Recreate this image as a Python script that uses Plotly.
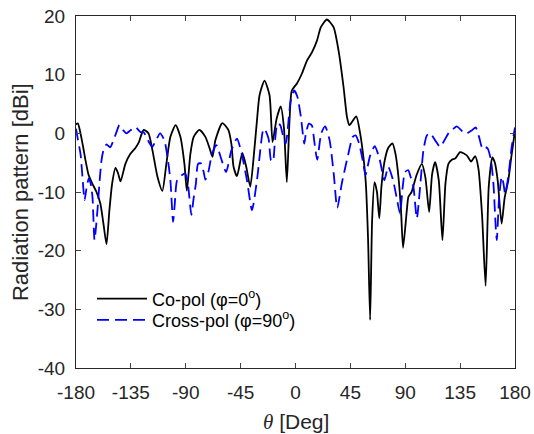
import plotly.graph_objects as go

# Co-pol (phi=0)
co_theta = [-180, -178.5, -176.3, -174, -172.2, -169.8, -166.5, -163.2, -160, -157.5,
            -155, -152.6, -150.4, -147.6, -145.5, -143.5, -139.5, -135.4, -131.3, -128.6,
            -126.5, -124.5, -120.6, -117.3, -113.2, -109.2, -105.9, -102.6, -98.3, -94.4,
            -91.1, -89.1, -86.2, -83.5, -78.8, -73.9, -70.5, -68.1, -65.7, -60,
            -55.1, -52.6, -50.8, -48, -43.6, -40.4, -37.1, -33.8, -31.6, -29.5,
            -25.4, -21.3, -18.8, -15.5, -12.1, -9.5, -7.1, -4.9, -3, 1.2,
            5.3, 9.4, 13.5, 17.6, 20.8, 25.7, 31.2, 35.3, 39.4, 42.2,
            44.2, 49.8, 53, 56.3, 57.7, 59.5, 61.2, 62.8, 64.8, 66.8,
            68.7, 70.5, 72.9, 76, 79.5, 82, 84.4, 86.5, 88.2, 91.3,
            92.6, 95.2, 99.3, 103.6, 106.5, 109.6, 112, 114.5, 117.5, 120.5,
            123, 125.4, 128.2, 130.9, 135, 140.4, 144, 147.3, 150, 153,
            155.9, 158.5, 161.4, 163.5, 165.8, 169, 171.5, 174.5, 177, 180]
co_gain = [1.5, 1.7, 0.0, -2.5, -4.6, -7.0, -8.6, -10, -12, -15.4,
           -18.9, -13.1, -8.6, -5.9, -6.8, -8.2, -5.2, -3.5, -2.5, -1.6,
           -0.3, 0.6, 0.0, -2.9, -7.4, -9.8, -5.2, -0.6, 1.4, -0.6,
           -5.2, -9.8, -3.5, -0.6, 0.6, -0.6, -2.5, -4.0, -1.2, 1.75,
           0.6, -1.75, -5.7, -7.3, -3.35, -5.7, -9.1, -2.9, 2.2, 6.5,
           9.0, 6.5, -1.5, 2.5, 4.6, 1.0, -8.3, 2.2, 7.3, 8.5,
           10.2, 12.4, 13.8, 15.8, 18.1, 19.4, 18.1, 14.1, 7.9, 2.8,
           1.4, 2.9, 0, -5.2, -8.6, -18, -31.8, -15, -8.3, -10,
           -14.5, -9, -4.9, -2.5, -1.7, -3.5, -7.4, -13, -19.5, -13.1,
           -10.8, -10, -7.1, -5.2, -7.5, -13.4, -7, -4.9, -8, -18.2,
           -8.5, -5.2, -4.5, -4.3, -3.2, -3.75, -4.8, -3.9, -6, -14,
           -26.0, -9, -4.1, -5, -8, -15.4, -11, -8, -4, 0.5]

# Cross-pol (phi=90)
cx_theta = [-180, -178.5, -176.3, -174.7, -173, -171.5, -169.5, -168, -166.5, -164.8,
            -162.4, -160.8, -159.1, -157.5, -155, -152, -149.3, -146.8, -144.4, -141.1,
            -138.6, -135.4, -131.5, -127, -124.5, -121, -117.5, -114.5, -111, -107.5,
            -105, -102.6, -100.4, -99, -97.1, -93, -90.3, -88, -85.4, -83.5,
            -81.7, -79.9, -77.5, -75.3, -73.9, -71.5, -68.4, -64.9, -61, -56.9,
            -52.6, -48, -43.9, -39.8, -35.7, -31.6, -28.9, -27, -25.6, -22.1,
            -20.1, -18.5, -17, -14.8, -12.5, -10.7, -8, -3.9, -1.1, 1.6,
            4.4, 7.2, 8.5, 11, 13.5, 15.3, 17.8, 21.1, 24.3, 28,
            31.4, 34.2, 38.2, 43, 47, 49.3, 52.2, 55.5, 57.4, 61.2,
            65, 69, 72.9, 76, 80, 83, 85.7, 88, 89.8, 92.5,
            94.5, 96.7, 99.5, 102.2, 104.9, 107.7, 110.4, 114.5, 118.6, 122.1,
            125.4, 128.2, 132.2, 137.6, 140.4, 144.5, 147.8, 150.5, 153.3, 155.4,
            157.6, 160.3, 162.3, 164.2, 165.1, 167, 169.1, 170.5, 171.9, 174.5,
            177.3, 180]
cx_gain = [0.8, -1, -3.5, -7.4, -11.4, -9.5, -7.7, -8.5, -10.8, -18.2,
           -13.1, -8.6, -4.6, -2.9, -1.9, -2.4, -1.2, 0.2, 1.4, 0.5,
           0, 0.5, 1.1, 0.2, 0.2, -1.2, -2.3, -1.2, 0, -1.2,
           -4, -8, -15.1, -12, -8, -7.1, -6.9, -9, -13.9, -11,
           -8.6, -5.2, -5.1, -6.6, -7.9, -6.6, -3.45, -2.0, -4.3, -6.6,
           -2.9, -0.9, -3.7, -8, -13.1, -8, -2.9, 0.2, 0.8, -0.9,
           -4.6, -4.8, -1.75, 1.65, 1.4, 0, -1.75, 5.6, 7.3, 6.2,
           2.8, -1.75, 0, 1.65, 1.3, -1.2, -4.5, 0, 1.2, -1.2,
           -7, -12.7, -8.3, -3.8, -0.6, -0.35, -1.75, -5, -7.1, -3.8,
           -2.2, -4.4, -8, -5.7, -8, -11, -13.7, -9, -6.6, -6.3,
           -7.5, -9.1, -14.5, -9.1, -2.9, -0.35, 0.05, -1.2, -2.3, -1.2,
           0, 0.5, 1.2, 0.2, 0, 0.5, 1.0, -0.6, -2.6, -2.3,
           -2.6, -4.6, -8.6, -16, -18.2, -10.8, -7.4, -8.5, -10.3, -7.4,
           -2.3, 1.0]

x_ticks = [-180, -135, -90, -45, 0, 45, 90, 135, 180]
x_labels = ["-180", "-135", "-90", "-45", "0", "45", "90", "135", "180"]
y_ticks = [-40, -30, -20, -10, 0, 10, 20]
y_labels = ["-40", "-30", "-20", "-10", "0", "10", "20"]

font = "Arial, Liberation Sans, sans-serif"
axis_col = "#262626"

fig = go.Figure()

fig.add_trace(go.Scatter(x=co_theta, y=co_gain, mode="lines",
                         name="Co-pol (φ=0<sup>o</sup>)", legend="legend",
                         line=dict(color="black", width=1.8, shape="spline", smoothing=0.6)))
fig.add_trace(go.Scatter(x=cx_theta, y=cx_gain, mode="lines",
                         name="Cross-pol (φ=90<sup>o</sup>)", legend="legend2",
                         line=dict(color="#0000ff", width=1.8, dash="12px,6px",
                                   shape="spline", smoothing=0.6)))

leg = dict(x=0.0365, xanchor="left", yanchor="middle",
           bgcolor="rgba(0,0,0,0)", font=dict(size=18, color="black"),
           itemwidth=50)

fig.update_layout(
    width=534, height=434,
    margin=dict(l=76, r=19, t=16, b=66),
    plot_bgcolor="white", paper_bgcolor="white",
    font=dict(family=font, size=19, color=axis_col),
    showlegend=True,
    legend=dict(leg, y=0.196),
    legend2=dict(leg, y=0.136),
)

fig.update_xaxes(range=[-180, 180], tickvals=x_ticks, ticktext=x_labels,
                 ticks="inside", ticklen=5, automargin=False, ticklabeloverflow="allow",
                 showline=True, linecolor=axis_col, linewidth=1, mirror="ticks",
                 showgrid=False, zeroline=False, ticklabelstandoff=7)
fig.update_yaxes(range=[-40, 20], tickvals=y_ticks, ticktext=y_labels,
                 ticks="inside", ticklen=5, automargin=False, ticklabeloverflow="allow",
                 showline=True, linecolor=axis_col, linewidth=1, mirror="ticks",
                 showgrid=False, zeroline=False, ticklabelstandoff=6)

# axis titles
fig.add_annotation(text="<span style='font-family:Liberation Serif'><i>θ</i></span> [Deg]",
                   xref="paper", yref="paper", x=0.5, y=-0.153,
                   xanchor="center", yanchor="middle", showarrow=False,
                   font=dict(size=21, color=axis_col))
fig.add_annotation(text="Radiation pattern [dBi]",
                   xref="paper", yref="paper", x=-0.1275, y=0.5, textangle=-90,
                   xanchor="center", yanchor="middle", showarrow=False,
                   font=dict(size=22, color=axis_col))

# drop the default 8px page margin so the figure fills the window
fig.write_html("out.html", config={"displayModeBar": False},
               post_script="document.body.style.margin='0';")
